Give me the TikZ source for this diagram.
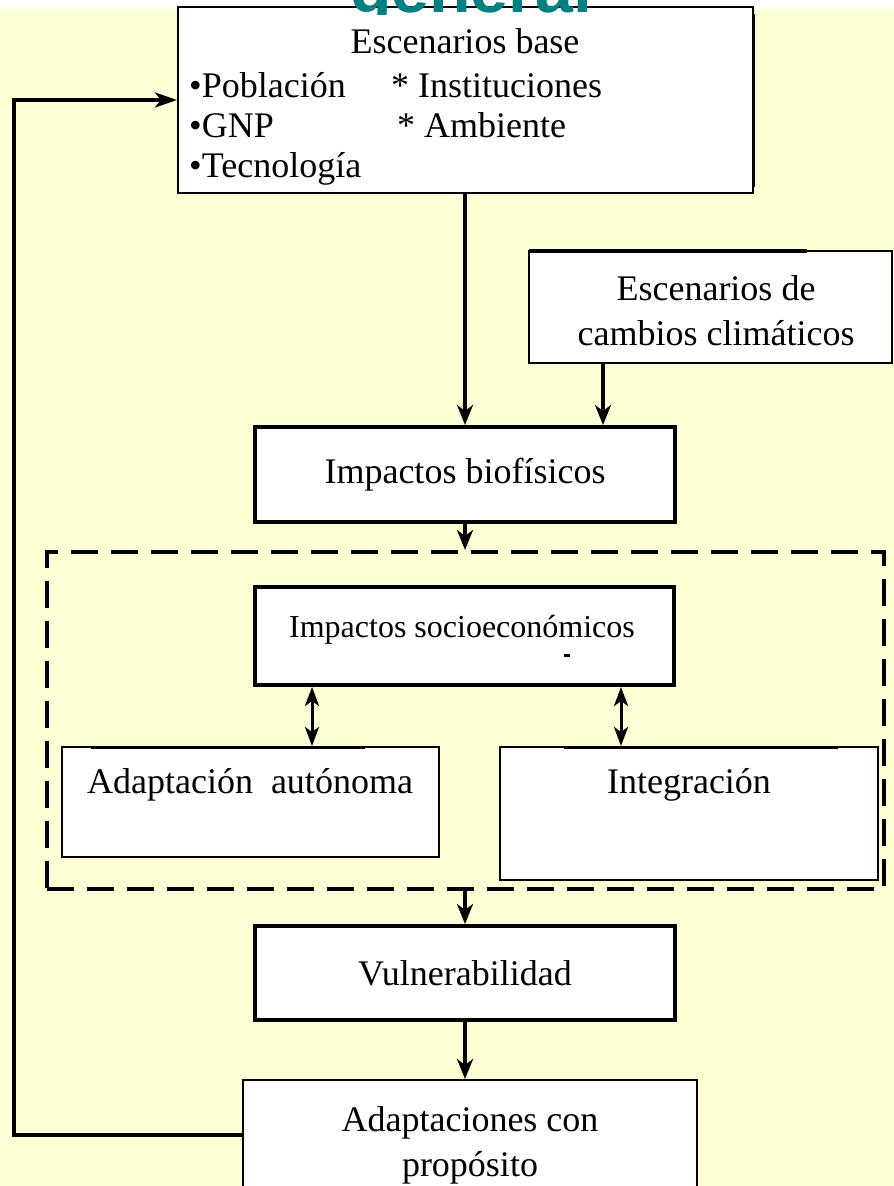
\documentclass[tikz,border=0pt]{standalone}
\usepackage{fontspec}
\setmainfont{Liberation Serif}
\newfontfamily\titlefont{Liberation Sans}
\usetikzlibrary{arrows.meta}
\definecolor{bgyellow}{RGB}{255,255,213}
\definecolor{titleteal}{RGB}{0,128,128}
\begin{document}
\begin{tikzpicture}[x=1pt,y=-1pt,
  box/.style={draw=black, fill=white, rectangle, inner sep=0pt, line width=2pt},
  thickbox/.style={box, line width=4pt},
  lbl/.style={font=\fontsize{36}{45}\selectfont, inner sep=0pt, align=center},
  smalllbl/.style={font=\fontsize{32}{38}\selectfont, inner sep=0pt},
  arr/.style={line width=4pt, -{Stealth[length=20pt,width=16pt,inset=6pt]}},
  dbl/.style={line width=3pt, {Stealth[length=19pt,width=14pt,inset=5pt]}-{Stealth[length=19pt,width=14pt,inset=5pt]}},
  grpbox/.style={draw=black, rectangle, inner sep=0pt, line width=4pt, dash pattern=on 27pt off 13pt},
  shade/.style={line width=4pt, black}
]
\useasboundingbox (0,0) rectangle (894,1186);
\fill[white] (0,0) rectangle (894,1186);
\fill[bgyellow] (0,9) rectangle (894,1186);

% helper coordinates
\coordinate (fbx) at (14,0);
\coordinate (cx) at (603,0);
\coordinate (xa) at (312,0);
\coordinate (xb) at (621,0);

% boxes
\node[box, minimum width=575pt, minimum height=186pt] (base) at (465.5,100) {};
\draw[line width=3pt] (753,14) -- (753,187);
\node[box, minimum width=363pt, minimum height=112pt] (clim) at (710.5,307) {};
\draw[shade] (529,251) -- (807,251);
\node[thickbox, minimum width=420pt, minimum height=95pt, lbl] (bio) at (465,474.5) {Impactos biofísicos};
\node[grpbox, minimum width=837pt, minimum height=337pt] (grp) at (465.5,720.5) {};
\node[thickbox, minimum width=419pt, minimum height=98pt] (socio) at (464.5,636) {};
\node[box, minimum width=377pt, minimum height=110pt] (adapt) at (250.5,802) {};
\node[box, minimum width=378pt, minimum height=133pt] (integ) at (689,813.5) {};
\draw[line width=3pt] (91,747) -- (365,747);
\draw[line width=3pt] (564,747) -- (838,747);
\node[thickbox, minimum width=420pt, minimum height=94pt, lbl] (vul) at (465,973) {Vulnerabilidad};
\node[box, minimum width=454pt, minimum height=110pt] (adp) at (470,1135) {};

% texts
\node[lbl, anchor=base] (t0) at (465,53) {Escenarios base};
\node[lbl, anchor=base west] (t1) at (189,97) {•Población};
\node[lbl, anchor=base west] (t1b) at (391,97) {* Instituciones};
\node[lbl, anchor=base west] (t2) at (189,137) {•GNP};
\node[lbl, anchor=base west] (t2b) at (397,137) {* Ambiente};
\node[lbl, anchor=base west] (t3) at (189,177) {•Tecnología};
\node[lbl] (climT) at (716,311) {Escenarios de\\cambios climáticos};
\node[smalllbl, anchor=base] (socioT) at (462,637) {Impactos socioeconómicos};
\fill (564,654) rectangle (570,656.5);
\node[lbl, anchor=base] (adaptT) at (250,793) {Adaptación\ \ autónoma};
\node[lbl, anchor=base] (integT) at (689,793) {Integración};
\node[lbl] (adpT) at (470,1145) {Adaptaciones con\\propósito};

% title (cut off at the top)
\begin{scope}
\clip (0,0) rectangle (894,14);
\node[anchor=base, text=titleteal, inner sep=0pt, font=\titlefont\bfseries\fontsize{68}{70}\selectfont] (title) at (471,12) {general};
\end{scope}

% connectors
\draw[arr] (bio.north |- base.south) -- (bio.north);
\draw[arr] (clim.south -| cx) -- (bio.north -| cx);
\draw[arr] (bio.south) -- (bio.south |- grp.north);
\draw[dbl] (socio.south -| xa) -- (adapt.north -| xa);
\draw[dbl] (socio.south -| xb) -- (integ.north -| xb);
\draw[arr] (grp.south -| vul.north) -- (vul.north);
\draw[arr] (vul.south) -- (vul.south |- adp.north);
\draw[line width=4.5pt, -{Stealth[length=22pt,width=15pt,inset=6pt]}]
  (adp.west) -- (adp.west -| fbx) -- (fbx |- base.west) -- (base.west);
\end{tikzpicture}
\end{document}
